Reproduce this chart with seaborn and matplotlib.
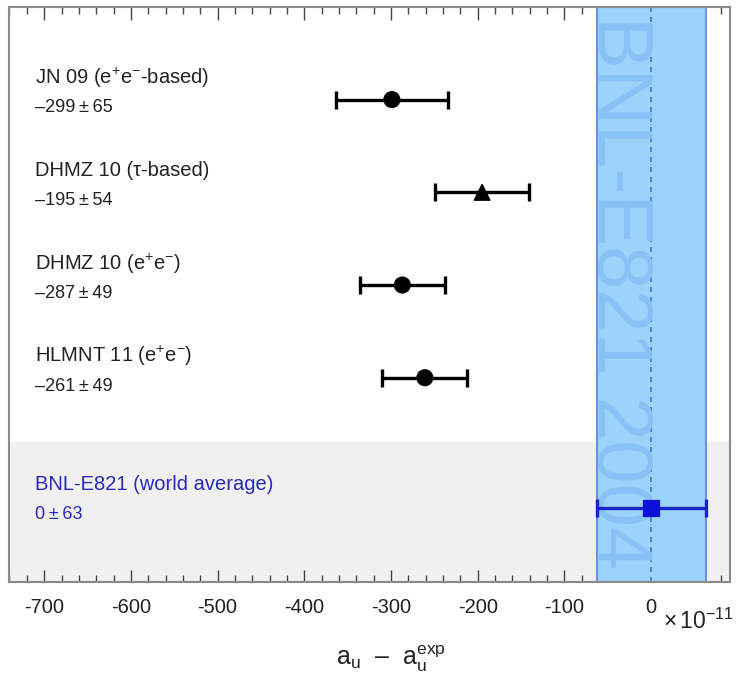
import numpy as np
import pandas as pd
import matplotlib
matplotlib.use("Agg")
import matplotlib.pyplot as plt
from matplotlib.ticker import MultipleLocator
import seaborn as sns

# Theory predictions (a_mu^SM - a_mu^exp) in units of 1e-11
names = ["JN 09 (e$^{+}$e$^{-}$-based)", "DHMZ 10 (τ-based)",
         "DHMZ 10 (e$^{+}$e$^{-}$)", "HLMNT 11 (e$^{+}$e$^{-}$)"]
values = [-299, -195, -287, -261]
errors = [65, 54, 49, 49]
shapes = ["o", "^", "o", "o"]
rows = [5, 4, 3, 2]

# Experimental world average
exp_name = "BNL-E821 (world average)"
exp_value = 0
exp_error = 63
exp_row = 0.6

tick_values = [-700, -600, -500, -400, -300, -200, -100, 0]

sns.set_theme(style="white")
plt.rcParams["font.family"] = ["Liberation Sans", "DejaVu Sans"]
plt.rcParams["mathtext.fontset"] = "custom"
plt.rcParams["mathtext.rm"] = "Liberation Sans"
plt.rcParams["mathtext.it"] = "Liberation Sans"

fig = plt.figure(figsize=(7.41, 6.86), dpi=100)
ax = fig.add_axes([0.0128, 0.152, 0.9725, 0.838])

ax.set_xlim(-740, 91)
ax.set_ylim(-0.2, 6.0)

# grey background for the experiment row, blue band for its error
ax.axhspan(-0.2, 1.307, color="#f0f0f0", zorder=0, lw=0)
ax.axvspan(exp_value - exp_error, exp_value + exp_error, facecolor="#9bd3fb",
           edgecolor="#6f8fe6", lw=1.5, zorder=1)
ax.axvline(exp_value, color="#4a6ee0", lw=1.2, ls=(0, (3, 3)), zorder=2)
ax.text(-38, 2.92, "BNL-E821 2004", rotation=-90, ha="center", va="center",
        fontsize=56, color="#88c1f5", zorder=2)

df = pd.DataFrame({"name": names, "value": values, "err": errors,
                   "shape": shapes, "row": rows})

ax.errorbar(df["value"], df["row"], xerr=df["err"], fmt="none", ecolor="black",
            elinewidth=2.4, capsize=6.5, capthick=2.4, zorder=3)
sns.scatterplot(data=df, x="value", y="row", style="shape",
                markers={"o": "o", "^": "^"}, color="black", s=130,
                edgecolor="black", legend=False, ax=ax, zorder=4)

ax.errorbar([exp_value], [exp_row], xerr=[exp_error], fmt="none", ecolor="#1a22cc",
            elinewidth=2.4, capsize=6.5, capthick=2.4, zorder=3)
sns.scatterplot(x=[exp_value], y=[exp_row], marker="s", color="#0a10d8", s=120,
                edgecolor="#0a10d8", legend=False, ax=ax, zorder=4)

# labels
for n, v, e, r in zip(names, values, errors, rows):
    ax.text(-711, r + 0.23, n, fontsize=14.5, ha="left", va="center", color="#222222")
    ax.text(-711, r - 0.09, f"\u2013{abs(v)}\u2009\u00b1\u2009{e}", fontsize=13,
            ha="left", va="center", color="#222222")
ax.text(-711, exp_row + 0.25, exp_name, fontsize=14.5, ha="left", va="center",
        color="#2a2ab8")
ax.text(-711, exp_row - 0.08, f"{exp_value}\u2009\u00b1\u2009{exp_error}", fontsize=13,
        ha="left", va="center", color="#2a2ab8")

# axes styling
ax.set_xlabel("")
ax.set_ylabel("")
ax.set_yticks([])
ax.set_xticks(tick_values)
ax.set_xticklabels([str(t) for t in tick_values], fontsize=14.5, color="#222222")
ax.xaxis.set_minor_locator(MultipleLocator(20))
ax.tick_params(axis="x", which="major", direction="in", length=9, width=1,
               top=True, bottom=True, pad=12, color="#444444")
ax.tick_params(axis="x", which="minor", direction="in", length=5, width=1,
               top=True, bottom=True, color="#444444")
for sp in ax.spines.values():
    sp.set_color("#8a8a8a")
    sp.set_linewidth(1.5)

fig.text(0.527, 0.04, "a$_{\\mathrm{u}}$  \u2013  a$_{\\mathrm{u}}^{\\mathrm{exp}}$",
         fontsize=18, ha="center", va="center", color="#222222")
fig.text(0.942, 0.095, r"$\times\,$10$^{-11}$", fontsize=16.5, ha="center", va="center",
         color="#222222")

fig.savefig("out.png", dpi=100)
